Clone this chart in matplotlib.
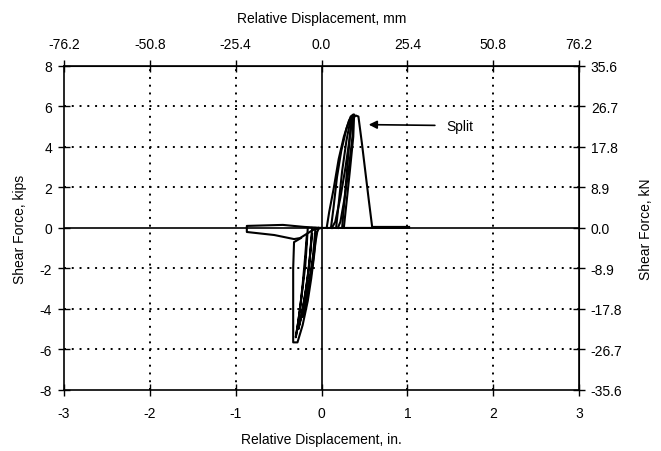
import matplotlib
matplotlib.use("Agg")
import matplotlib.pyplot as plt

plt.rcParams['font.family'] = ['Liberation Sans', 'DejaVu Sans']

# Hysteresis loops (displacement in., shear force kips)
loop_p1_x = [0.06, 0.09, 0.14, 0.20, 0.26, 0.32, 0.35, 0.33, 0.28, 0.22, 0.16, 0.12]
loop_p1_y = [0.0, 0.8, 1.9, 3.4, 4.5, 5.3, 5.5, 4.5, 3.0, 1.5, 0.3, 0.0]
loop_p2_x = [0.11, 0.14, 0.18, 0.23, 0.29, 0.34, 0.37, 0.36, 0.32, 0.27, 0.22, 0.19]
loop_p2_y = [0.0, 1.0, 2.5, 3.8, 4.9, 5.5, 5.6, 4.5, 3.0, 1.5, 0.3, 0.0]
loop_p3_x = [0.17, 0.20, 0.24, 0.29, 0.34, 0.38, 0.37, 0.33, 0.29, 0.26]
loop_p3_y = [0.0, 1.2, 2.8, 4.3, 5.4, 5.6, 4.5, 2.8, 1.2, 0.0]
loop_p4_x = [0.24, 0.27, 0.30, 0.33, 0.36, 0.40, 0.43, 0.47, 0.51, 0.55, 0.59, 0.80, 1.02]
loop_p4_y = [0.0, 1.5, 3.0, 4.5, 5.4, 5.55, 5.5, 4.2, 2.8, 1.4, 0.05, 0.05, 0.05]

loop_n1_x = [-0.06, -0.08, -0.11, -0.15, -0.19, -0.22, -0.19, -0.14, -0.10, -0.08, -0.07]
loop_n1_y = [-0.2, -1.0, -2.0, -3.0, -3.9, -4.4, -3.6, -2.5, -1.4, -0.5, 0.0]
loop_n2_x = [-0.11, -0.13, -0.16, -0.20, -0.24, -0.27, -0.23, -0.18, -0.14, -0.12, -0.11]
loop_n2_y = [-0.3, -1.2, -2.4, -3.6, -4.5, -5.0, -4.2, -3.0, -1.7, -0.6, 0.0]
loop_n3_x = [-0.17, -0.19, -0.22, -0.25, -0.28, -0.30, -0.27, -0.23, -0.19, -0.17, -0.16]
loop_n3_y = [-0.3, -1.4, -2.8, -4.0, -4.9, -5.4, -4.6, -3.3, -1.9, -0.7, 0.0]
loop_n4_x = [-0.24, -0.32, -0.33, -0.33, -0.33, -0.28, -0.22, -0.16, -0.12, -0.09, -0.07, -0.05, -0.03]
loop_n4_y = [-0.5, -0.7, -2.0, -4.0, -5.65, -5.65, -4.8, -3.6, -2.5, -1.5, -0.7, -0.2, 0.0]

tail_x = [0.0, -0.2, -0.45, -0.87, -0.87, -0.55, -0.32, -0.25, -0.1, 0.0, 1.02]
tail_y = [0.0, 0.05, 0.15, 0.1, -0.2, -0.35, -0.55, -0.5, -0.1, 0.0, 0.0]

loops = [(loop_p1_x, loop_p1_y), (loop_p2_x, loop_p2_y), (loop_p3_x, loop_p3_y),
         (loop_p4_x, loop_p4_y), (loop_n1_x, loop_n1_y), (loop_n2_x, loop_n2_y),
         (loop_n3_x, loop_n3_y), (loop_n4_x, loop_n4_y), (tail_x, tail_y)]

x_ticks = [-3, -2, -1, 0, 1, 2, 3]
y_ticks = [-8, -6, -4, -2, 0, 2, 4, 6, 8]
mm_ticks = [-76.2, -50.8, -25.4, 0.0, 25.4, 50.8, 76.2]
kn_ticks = [-35.6, -26.7, -17.8, -8.9, 0.0, 8.9, 17.8, 26.7, 35.6]

fig = plt.figure(figsize=(6.61, 4.52), dpi=100)
ax = fig.add_axes([0.0968, 0.135, 0.876 - 0.0968, 0.852 - 0.135])

for gx in [-2, -1, 1, 2]:
    ax.axvline(gx, color='black', lw=1.4, ls=(0, (1, 3)), zorder=1)
for gy in [-6, -4, -2, 2, 4, 6]:
    ax.axhline(gy, color='black', lw=1.4, ls=(0, (1, 3)), zorder=1)
ax.axvline(0, color='black', lw=1.2, zorder=1)
ax.axhline(0, color='black', lw=1.2, zorder=1)

for lx, ly in loops:
    ax.plot(lx, ly, color='black', lw=1.5, zorder=3)

ax.set_xlim(-3, 3)
ax.set_ylim(-8, 8)
ax.set_xticks(x_ticks)
ax.set_yticks(y_ticks)
ax.set_xticklabels([str(t) for t in x_ticks])
ax.set_yticklabels([str(t) for t in y_ticks])
ax.tick_params(axis='x', direction='inout', length=9, width=1, labelsize=10, pad=7)
ax.tick_params(axis='y', direction='inout', length=9, width=1, labelsize=10, pad=4)
for s in ax.spines.values():
    s.set_linewidth(1.2)

ax.set_xlabel('Relative Displacement, in.', fontsize=10, labelpad=9)
ax.set_ylabel('Shear Force, kips', fontsize=10, labelpad=9)

sec_x = ax.secondary_xaxis('top', functions=(lambda v: v * 25.4, lambda v: v / 25.4))
sec_x.set_xticks(mm_ticks)
sec_x.set_xticklabels([f'{t:.1f}' for t in mm_ticks])
sec_x.tick_params(direction='inout', length=9, width=1, labelsize=10, pad=6)
sec_x.set_xlabel('Relative Displacement, mm', fontsize=10, labelpad=11)

sec_y = ax.secondary_yaxis('right', functions=(lambda v: v * 4.45, lambda v: v / 4.45))
sec_y.set_yticks(kn_ticks)
sec_y.set_yticklabels([f'{t:.1f}' for t in kn_ticks])
sec_y.tick_params(direction='inout', length=9, width=1, labelsize=10, pad=4)
sec_y.set_ylabel('Shear Force, kN', fontsize=10, labelpad=12)

ax.annotate('Split', xy=(0.55, 5.1), xytext=(1.45, 5.05), fontsize=10,
            va='center', ha='left',
            arrowprops=dict(arrowstyle='-|>', color='black', lw=1.2,
                            shrinkA=6, shrinkB=0, mutation_scale=12))

fig.savefig('out.png', dpi=100)
